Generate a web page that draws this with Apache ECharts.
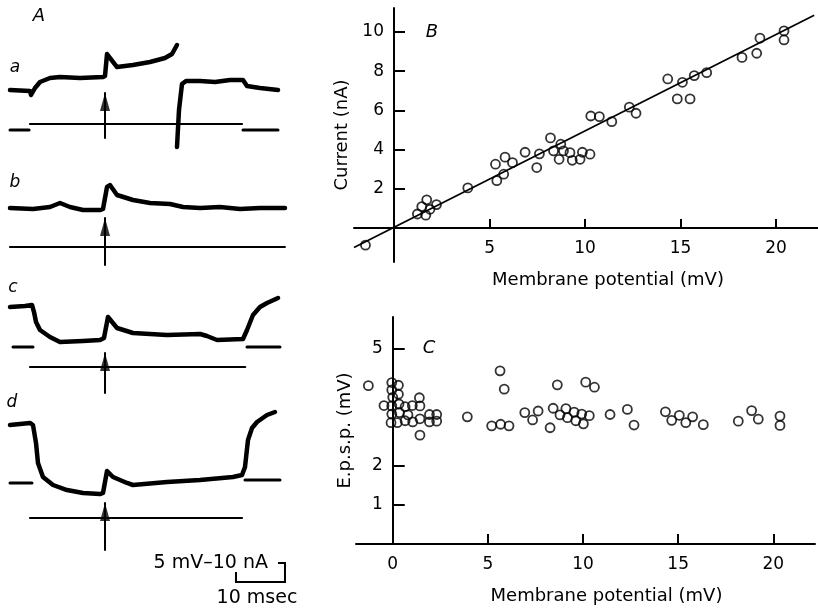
<!DOCTYPE html>
<html><head><meta charset="utf-8">
<script src="https://cdn.jsdelivr.net/npm/echarts@6/dist/echarts.min.js"></script>
<style>html,body{margin:0;padding:0;background:#fff}#c{width:818px;height:609px}</style>
</head><body><div id="c"></div>
<script>
// ---------- Panel B: current vs membrane potential ----------
const bX = [-1.5, 1.22, 1.45, 1.71, 1.66, 1.88, 2.22, 3.86, 5.31, 5.38, 5.81, 5.74, 6.2, 6.86, 7.47, 7.61, 8.19, 8.35, 8.73, 8.64, 8.87, 9.21, 9.33, 9.74, 9.86, 10.26, 10.3, 10.75, 11.4, 12.32, 12.67, 14.33, 15.1, 14.83, 15.5, 15.72, 16.37, 18.22, 18.99, 19.16, 20.42, 20.42];
const bY = [-0.88, 0.71, 1.09, 1.43, 0.65, 0.95, 1.19, 2.04, 3.25, 2.41, 3.61, 2.74, 3.33, 3.86, 3.08, 3.78, 4.59, 3.93, 4.27, 3.5, 3.93, 3.84, 3.45, 3.5, 3.86, 3.76, 5.71, 5.68, 5.42, 6.16, 5.85, 7.6, 7.43, 6.58, 6.58, 7.77, 7.92, 8.7, 8.91, 9.68, 10.05, 9.59];
const fitX = [-2.1, 22.0];
const fitY = [-1.0, 10.85];
const bXTicks = [5, 10, 15, 20];
const bYTicks = [2, 4, 6, 8, 10];

// ---------- Panel C: e.p.s.p. vs membrane potential ----------
const cX = [-1.28, -0.05, -0.05, 0.3, 0.0, 0.3, -0.46, -0.05, 0.33, 0.65, 1.03, 1.4, 1.43, -0.05, 0.35, 0.8, 1.43, -0.09, 0.24, 0.65, 1.05, 1.93, 2.31, 1.93, 2.31, 1.43, 3.92, 5.64, 5.86, 5.2, 5.67, 6.11, 6.94, 7.64, 7.35, 8.65, 8.43, 8.27, 9.1, 8.79, 9.18, 9.53, 10.14, 10.6, 9.93, 10.33, 9.62, 10.02, 11.42, 12.33, 12.68, 14.33, 14.66, 15.06, 15.4, 15.76, 16.32, 18.16, 18.86, 19.21, 20.35, 20.35];
const cY = [4.06, 4.14, 3.95, 4.07, 3.76, 3.84, 3.55, 3.54, 3.59, 3.52, 3.55, 3.75, 3.54, 3.33, 3.37, 3.31, 3.21, 3.11, 3.11, 3.16, 3.13, 3.32, 3.32, 3.13, 3.15, 2.79, 3.26, 4.44, 3.97, 3.03, 3.07, 3.03, 3.37, 3.41, 3.18, 4.08, 3.48, 2.98, 3.47, 3.31, 3.24, 3.38, 4.15, 4.02, 3.33, 3.29, 3.16, 3.08, 3.32, 3.45, 3.05, 3.39, 3.17, 3.3, 3.11, 3.26, 3.06, 3.15, 3.42, 3.2, 3.28, 3.04];
const cXLabels = [0, 5, 10, 15, 20];
const cXTicks = [5, 10, 15, 20];
const cYTicks = [1, 2, 5];

// ---------- Panel A: records (time in msec, potential in mV) ----------
const aV1T = [0, 4.08, 4.29, 5.1, 6.12, 8.16, 10.2, 14.29, 18.98, 19.39, 19.8, 21.84, 25.1, 28.57, 31.63, 33.06, 34.08];
const aV1  = [0, -0.26, -1.32, 0.53, 2.1, 3.16, 3.42, 3.16, 3.42, 3.7, 9.47, 6.05, 6.58, 7.37, 8.42, 9.47, 11.84];
const aV2T = [34.08, 34.49, 35.1, 35.92, 38.78, 41.84, 44.9, 47.55, 48.37, 51.02, 54.7];
const aV2  = [-15.0, -5.26, 1.58, 2.37, 2.37, 2.1, 2.63, 2.63, 1.05, 0.53, 0];
const bVT = [0, 4.69, 8.16, 10.2, 12.24, 14.9, 18.37, 18.98, 19.8, 20.41, 21.84, 25.1, 28.57, 32.65, 35.31, 38.78, 42.86, 46.94, 51.02, 56.12];
const bV  = [0, -0.26, 0.26, 1.32, 0.26, -0.53, -0.53, -0.26, 5.53, 6.05, 3.42, 2.1, 1.32, 1.05, 0.26, 0, 0.26, -0.26, 0, 0];
const cVT = [0, 3.06, 4.49, 4.9, 5.31, 6.12, 8.16, 10.2, 14.9, 18.37, 19.18, 20.0, 21.84, 25.1, 32.04, 38.78, 40.2, 42.24, 47.55, 48.37, 49.59, 51.02, 52.45, 54.7];
const cV  = [0, 0.26, 0.53, -1.32, -3.95, -6.05, -7.89, -9.21, -8.95, -8.68, -8.16, -2.63, -5.53, -6.84, -7.37, -7.11, -7.63, -8.68, -8.42, -6.05, -2.1, 0, 1.05, 2.37];
const dVT = [0, 4.08, 4.69, 5.31, 5.71, 6.73, 8.78, 11.63, 14.9, 18.37, 18.98, 19.8, 21.02, 23.88, 25.1, 32.04, 38.78, 45.51, 47.35, 47.96, 48.57, 49.39, 50.41, 52.45, 54.08];
const dV  = [0, 0.53, 0, -4.74, -10.0, -13.68, -15.79, -17.11, -17.89, -18.16, -17.89, -12.1, -13.68, -15.26, -15.79, -15.0, -14.47, -13.68, -13.16, -11.05, -3.95, -0.79, 0.79, 2.63, 3.42];
// current records (start, end) and level
const currT = {a: [4.08, 47.35], b: [0, 56.1], c: [4.08, 48.0], d: [4.08, 47.35]};
const currV = {a: -8.95, b: -10.26, c: -15.79, d: -24.47};
// zero-level markers
const markL = {a: [0, 3.9], c: [0.61, 4.69], d: [0, 4.49]};
const markR = {a: [47.55, 54.7], c: [48.37, 55.1], d: [47.96, 55.1]};
const markV = {a: [-10.53, -10.53], c: [-10.53, -10.53], d: [-15.26, -14.47]};
// stimulus arrows
const stimT = 19.39;
const arrowV = {a: [-12.6, -0.8], b: [-15.0, -2.63], c: [-22.6, -12.1], d: [-32.9, -20.5]};
// calibration: 10 msec, 5 mV
const calT = [46.12, 46.12, 56.12, 56.12, 54.7];
const calV = [-38.7, -41.32, -41.32, -36.32, -36.32];

// ---------- layout ----------
const FONT = 'DejaVu Sans';
const MS_PX = 4.9, MV_PX = 3.8, A_LEFT = 10, A_TMAX = 58;
const rowRest = {a: 90, b: 208, c: 307, d: 425};
const ROW_UP = 70, ROW_DOWN = 180;
const zip = (xs, ys) => xs.map((x, i) => [x, ys[i]]);
const K = '#000';

const grids = [
  {left: 354, top: 8, width: 464, height: 254},
  {left: 356, top: 317, width: 459, height: 227}
];
const xAxes = [], yAxes = [], series = [];
const lblX = {color: K, fontSize: 17, fontFamily: FONT, margin: 12};
const lblY = {color: K, fontSize: 17, fontFamily: FONT, margin: 10};
const nameStyle = {color: K, fontSize: 18, fontFamily: FONT};
const axLine = {onZero: false, lineStyle: {color: K, width: 2}};

xAxes.push({gridIndex: 0, type: 'value', min: -2.1, max: 22.2, offset: -34,
  axisLine: axLine,
  axisTick: {inside: true, length: 9, customValues: bXTicks, lineStyle: {color: K, width: 2}},
  axisLabel: Object.assign({customValues: bXTicks}, lblX),
  splitLine: {show: false},
  name: 'Membrane potential (mV)', nameLocation: 'middle', nameGap: 43,
  nameTextStyle: Object.assign({padding: [0, 0, 0, 44]}, nameStyle)});
yAxes.push({gridIndex: 0, type: 'value', min: -1.74, max: 11.22, offset: -40,
  axisLine: axLine,
  axisTick: {inside: true, length: 11, customValues: bYTicks, lineStyle: {color: K, width: 2}},
  axisLabel: Object.assign({customValues: bYTicks}, lblY),
  splitLine: {show: false},
  name: 'Current (nA)', nameLocation: 'middle', nameGap: 38, nameTextStyle: nameStyle});
xAxes.push({gridIndex: 1, type: 'value', min: -1.93, max: 22.19,
  axisLine: axLine,
  axisTick: {inside: true, length: 10, customValues: cXTicks, lineStyle: {color: K, width: 2}},
  axisLabel: Object.assign({customValues: cXLabels}, lblX),
  splitLine: {show: false},
  name: 'Membrane potential (mV)', nameLocation: 'middle', nameGap: 43,
  nameTextStyle: Object.assign({padding: [0, 0, 0, 42]}, nameStyle)});
yAxes.push({gridIndex: 1, type: 'value', min: 0, max: 5.82, offset: -36.7,
  axisLine: axLine,
  axisTick: {inside: true, length: 12, customValues: cYTicks, lineStyle: {color: K, width: 2}},
  axisLabel: Object.assign({customValues: cYTicks}, lblY),
  splitLine: {show: false},
  name: 'E.p.s.p. (mV)', nameLocation: 'middle', nameGap: 38, nameTextStyle: nameStyle});

const circle = {color: 'rgba(255,255,255,0)', borderColor: K, borderWidth: 1.8};
series.push({type: 'line', xAxisIndex: 0, yAxisIndex: 0, data: zip(fitX, fitY), symbol: 'none', lineStyle: {color: K, width: 1.8}, z: 2});
series.push({type: 'scatter', xAxisIndex: 0, yAxisIndex: 0, data: zip(bX, bY), symbolSize: 9, itemStyle: circle, z: 3});
series.push({type: 'scatter', xAxisIndex: 1, yAxisIndex: 1, data: zip(cX, cY), symbolSize: 9, itemStyle: circle, z: 3});

const rowVolt = {a: [[aV1T, aV1], [aV2T, aV2]], b: [[bVT, bV]], c: [[cVT, cV]], d: [[dVT, dV]]};
['a', 'b', 'c', 'd'].forEach((k, i) => {
  const gi = 2 + i;
  const y0 = rowRest[k];
  grids.push({left: A_LEFT, top: y0 - ROW_UP, width: A_TMAX * MS_PX, height: ROW_UP + ROW_DOWN});
  xAxes.push({gridIndex: gi, type: 'value', min: 0, max: A_TMAX, show: false, splitLine: {show: false}});
  yAxes.push({gridIndex: gi, type: 'value', min: -ROW_DOWN / MV_PX, max: ROW_UP / MV_PX, show: false, splitLine: {show: false}});
  const ln = (data, w) => ({type: 'line', xAxisIndex: gi, yAxisIndex: gi, data, symbol: 'none', showSymbol: false,
    lineStyle: {color: K, width: w, cap: 'round', join: 'round'}, silent: true});
  rowVolt[k].forEach(([t, v]) => series.push(ln(zip(t, v), 4.5)));
  series.push(ln(zip(currT[k], [currV[k], currV[k]]), 2.2));
  if (markL[k]) {
    series.push(ln(zip(markL[k], [markV[k][0], markV[k][0]]), 3));
    series.push(ln(zip(markR[k], [markV[k][1], markV[k][1]]), 3));
  }
  series.push(ln(zip([stimT, stimT], arrowV[k]), 2));
  series.push({type: 'scatter', xAxisIndex: gi, yAxisIndex: gi, data: [[stimT, arrowV[k][1]]],
    symbol: 'triangle', symbolSize: [10, 18], symbolOffset: [0, '50%'], itemStyle: {color: K}, silent: true});
  if (k === 'd') series.push(Object.assign(ln(zip(calT, calV), 2), {lineStyle: {color: K, width: 2, cap: 'butt', join: 'miter'}}));
});

const txt = (x, y, text, font, align) => ({type: 'text', x, y, silent: true,
  style: {text, font, fill: K, align: align || 'center', verticalAlign: 'middle'}});
const graphic = [
  txt(39, 16, 'A', 'italic 18px ' + FONT),
  txt(432, 32, 'B', 'italic 18px ' + FONT),
  txt(429, 348, 'C', 'italic 18px ' + FONT),
  txt(15, 68, 'a', 'italic 17px ' + FONT),
  txt(15, 183, 'b', 'italic 17px ' + FONT),
  txt(13, 288, 'c', 'italic 17px ' + FONT),
  txt(12, 403, 'd', 'italic 17px ' + FONT),
  txt(268, 563, '5 mV–10 nA', '19px ' + FONT, 'right'),
  txt(257, 598, '10 msec', '19px ' + FONT)
];

const chart = echarts.init(document.getElementById('c'), null, {renderer: 'canvas'});
chart.setOption({animation: false, backgroundColor: '#fff', grid: grids, xAxis: xAxes, yAxis: yAxes, series, graphic});
</script></body></html>
